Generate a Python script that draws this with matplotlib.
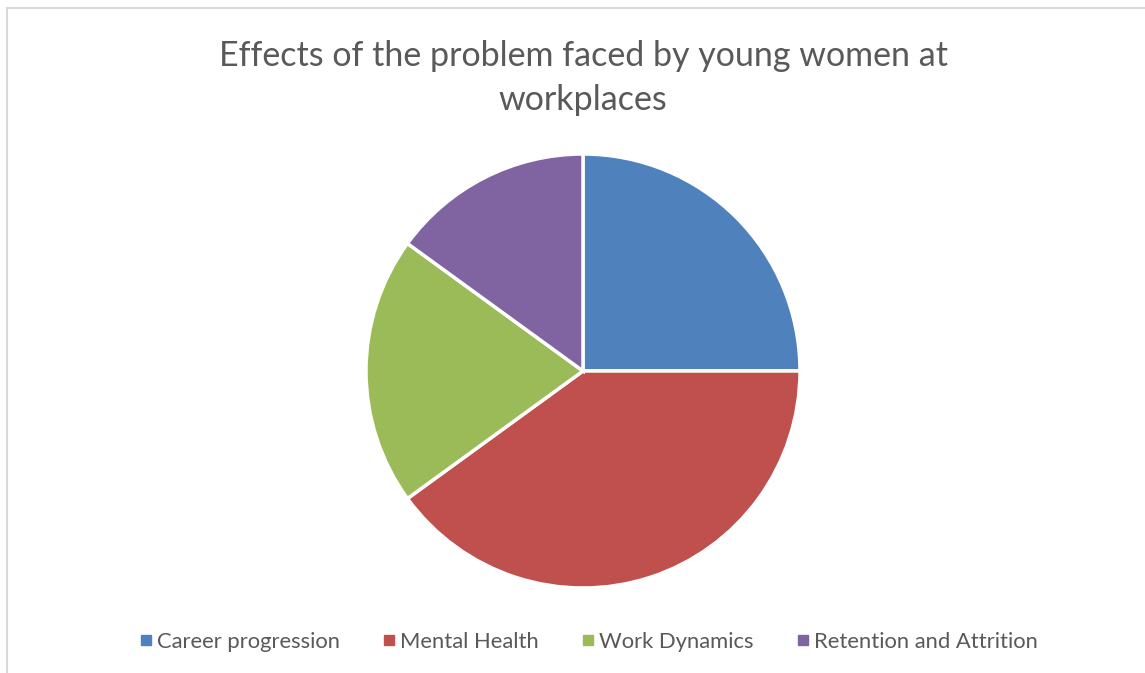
import matplotlib
matplotlib.use("Agg")
import matplotlib.pyplot as plt
from matplotlib.patches import Rectangle
from matplotlib.lines import Line2D

categories = ["Career progression", "Mental Health", "Work Dynamics", "Retention and Attrition"]
shares = [25, 40, 20, 15]
colors = ["#4F81BD", "#C0504D", "#9BBB59", "#8064A2"]
title = "Effects of the problem faced by young women at\nworkplaces"

plt.rcParams["font.family"] = ["Lato", "DejaVu Sans"]

W, H = 1145, 673
fig = plt.figure(figsize=(W / 100, H / 100), dpi=100)
fig.patch.set_facecolor("white")

# chart area border (runs off the right and bottom edges)
fig.patches.append(Rectangle((6.5 / W, -0.1), 1.2, 1.1 - 8.5 / H,
                             transform=fig.transFigure, fill=False,
                             edgecolor="#d9d9d9", linewidth=1.5))

# pie: centre (583, 371) px, radius 217 px
cx, cy, r = 583, 371, 217
ax = fig.add_axes([(cx - r) / W, (H - cy - r) / H, 2 * r / W, 2 * r / H])
ax.pie(shares, colors=colors, startangle=90, counterclock=False,
       wedgeprops=dict(edgecolor="white", linewidth=2.5))
ax.set_xlim(-1, 1)
ax.set_ylim(-1, 1)
ax.set_aspect("equal")
ax.axis("off")

fig.text(cx / W, 1 - 78 / H, title, ha="center", va="center",
         fontsize=24.5, color="#595959", linespacing=1.5)

handles = [Line2D([], [], marker="s", linestyle="none", markersize=7,
                  markerfacecolor=c, markeredgecolor=c) for c in colors]
fig.legend(handles, categories, loc="center", ncol=4,
           bbox_to_anchor=(588 / W, 1 - 642 / H), frameon=False,
           fontsize=15.8, labelcolor="#595959", handletextpad=0.15,
           columnspacing=1.9, handlelength=0.7)

fig.savefig("out.png", dpi=100)
